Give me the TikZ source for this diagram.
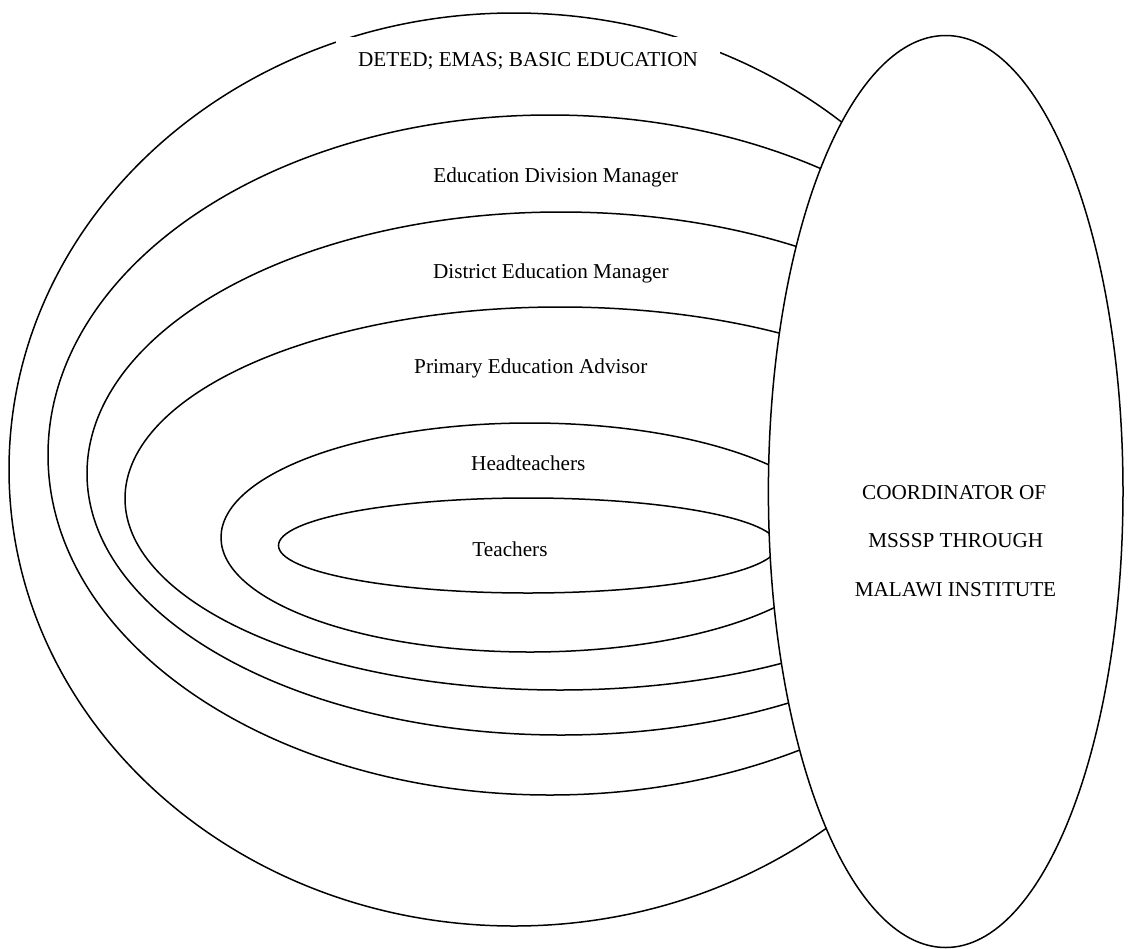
\documentclass[tikz,border=0pt]{standalone}
\usepackage{fontspec}
\setmainfont{Liberation Serif}
\usetikzlibrary{shapes.geometric}
\begin{document}
\begin{tikzpicture}[x=1pt, y=-1pt,
  ring/.style={draw, ellipse, line width=1.5pt, inner sep=0pt, outer sep=0pt},
  lbl/.style={anchor=base, inner sep=0pt, font=\fontsize{21.2}{25}\selectfont}]
\useasboundingbox (0,0) rectangle (1130,948);

% nested levels, outermost first
\node[ring, minimum width=1010pt, minimum height=913pt] (deted)    at (514,469.5) {};
\node[ring, minimum width=1004pt, minimum height=680pt] (division) at (550,455)   {};
\node[ring, minimum width=948pt,  minimum height=523pt] (district) at (561,473.5) {};
\node[ring, minimum width=870pt,  minimum height=383pt] (advisor)  at (560,498.5) {};
\node[ring, minimum width=618pt,  minimum height=229pt] (head)     at (530,537.5) {};
\node[ring, minimum width=499pt,  minimum height=95pt]  (teach)    at (528,545.5) {};

% level names
\node[lbl, fill=white, inner xsep=22pt, text height=29.7pt, text depth=15pt]
  (tdeted) at (528,66.7) {DETED; EMAS; BASIC EDUCATION};
\node[lbl] (tdivision) at (555.8,182.3) {Education Division Manager};
\node[lbl] (tdistrict) at (550.8,278.3) {District Education Manager};
\node[lbl] (tadvisor)  at (530.8,373.3) {Primary Education Advisor};
\node[lbl] (thead)     at (528.3,470.7) {Headteachers};
\node[lbl] (tteach)    at (510,556)     {Teachers};

% coordinating body over all levels
\node[ring, fill=white, minimum width=354.6pt, minimum height=912pt] (coord) at (945.7,491.5) {};
\node[lbl] (tcoordA) at (954.2,499.3) {COORDINATOR OF};
\node[lbl] (tcoordB) at (955.8,547.3) {MSSSP THROUGH};
\node[lbl] (tcoordC) at (955.5,596.7) {MALAWI INSTITUTE};
\end{tikzpicture}
\end{document}
